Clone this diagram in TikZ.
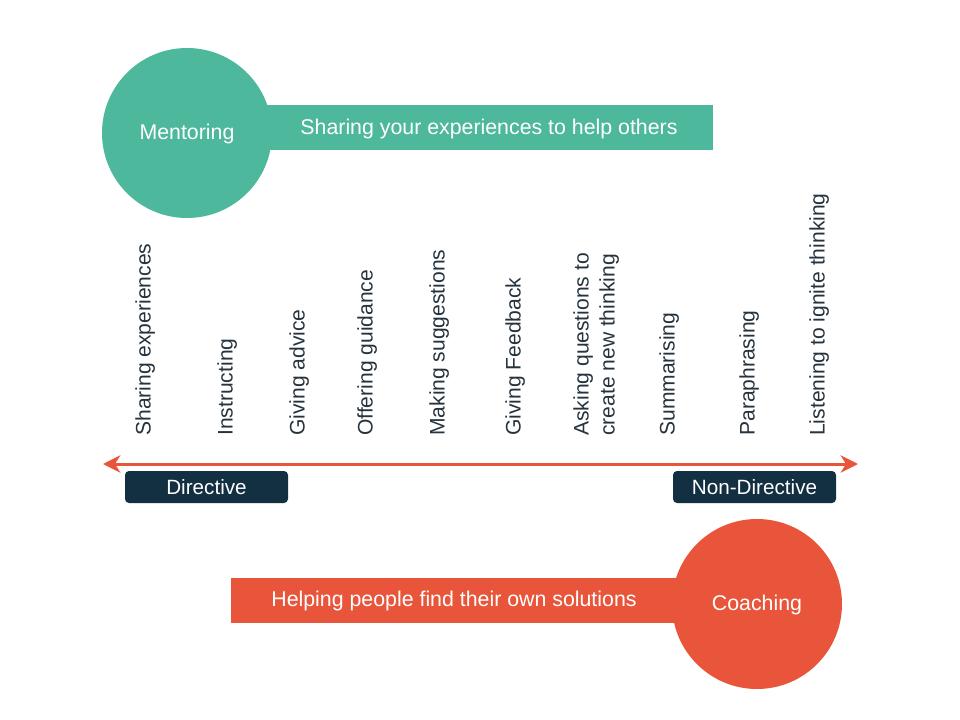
\documentclass[tikz,border=0pt]{standalone}
\usepackage{fontspec}
\setmainfont{Liberation Sans}
\usetikzlibrary{arrows.meta}
\definecolor{mentorgreen}{HTML}{4DB89C}
\definecolor{coachred}{HTML}{E9553A}
\definecolor{tagnavy}{HTML}{132F42}
\definecolor{labelgray}{HTML}{26323C}
\tikzset{
  bigcircle/.style={circle, minimum size=127.5pt, inner sep=0pt, text=white, font=\fontsize{16}{18}\selectfont},
  barbox/.style={rectangle, minimum height=33.75pt, inner sep=0pt},
  bartext/.style={text=white, font=\fontsize{16}{18}\selectfont},
  tagbox/.style={rectangle, rounded corners=3pt, fill=tagnavy, minimum width=122.25pt, minimum height=24pt, inner sep=0pt, text=white, font=\fontsize{15.5}{17}\selectfont},
  stagelabel/.style={rotate=90, anchor=north west, inner sep=0pt, text=labelgray, font=\fontsize{15.8}{19.5}\selectfont, align=left},
  arrowline/.style={coachred, line width=2.25pt, {Stealth[length=13pt,width=13pt,inset=4pt]}-{Stealth[length=13pt,width=13pt,inset=4pt]}}
}
\begin{document}
\begin{tikzpicture}[x=0.75pt,y=-0.75pt]
\useasboundingbox (0,0) rectangle (960,720);
%Mentoring
\node[barbox, fill=mentorgreen, minimum width=336pt] (sharebar) at (489,127.5) {};
\node[bigcircle, fill=mentorgreen] (mentor) at (187,133) {};
\node[bartext] (mentortext) at (187,134) {Mentoring};
\node[bartext] (sharetext) at (489,129) {Sharing your experiences to help others};
%Stages
\node[stagelabel] (s1) at (135,436) {Sharing experiences};
\node[stagelabel] (s2) at (217,436) {Instructing};
\node[stagelabel] (s3) at (289,436) {Giving advice};
\node[stagelabel] (s4) at (357,436) {Offering guidance};
\node[stagelabel] (s5) at (429,436) {Making suggestions};
\node[stagelabel] (s6) at (505,436) {Giving Feedback};
\node[stagelabel] (s7) at (573,436) {Asking questions to\\create new thinking};
\node[stagelabel] (s8) at (659,436) {Summarising};
\node[stagelabel] (s9) at (739,436) {Paraphrasing};
\node[stagelabel] (s10) at (809,436) {Listening to ignite thinking};
%Axis
\coordinate (leftend) at (103,464);
\coordinate (rightend) at (858,464);
\draw[arrowline] (leftend) -- (rightend);
\node[tagbox] (directive) at (206.5,487) {Directive};
\node[tagbox] (nondirective) at (754.5,487) {Non-Directive};
%Coaching
\node[barbox, fill=coachred, minimum width=351.75pt] (helpbar) at (465.5,600) {};
\node[bigcircle, fill=coachred] (coach) at (757,604) {};
\node[bartext] (coachtext) at (757,605) {Coaching};
\node[bartext] (helptext) at (454,601) {Helping people find their own solutions};
\end{tikzpicture}
\end{document}
